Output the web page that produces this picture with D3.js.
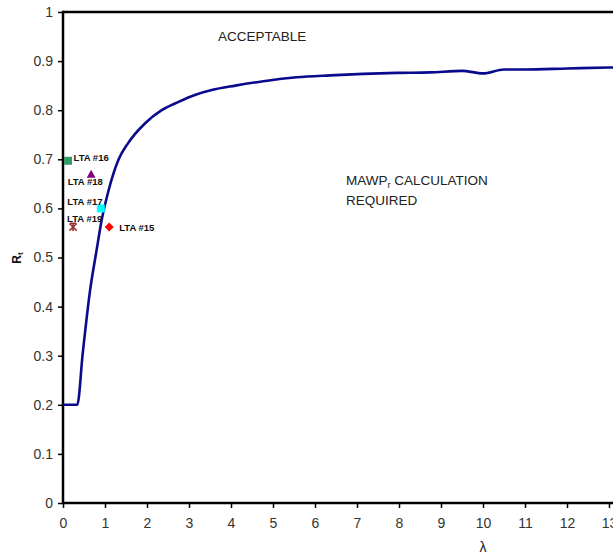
<!DOCTYPE html>
<html><head><meta charset="utf-8">
<script src="https://cdn.jsdelivr.net/npm/d3@7"></script>
<style>html,body{margin:0;padding:0;background:#fff;overflow:hidden}</style>
</head><body>
<svg id="c" width="613" height="556"></svg>
<script>
// ---- data ----
const curveLambda = [0, 0.34, 0.47, 0.64, 0.80, 0.92, 1.08, 1.32, 1.55, 1.95, 2.35, 2.75, 3.14, 3.54, 4.1, 4.77, 5.56, 6.36, 7.15, 7.94, 8.74, 9.5, 10.0, 10.5, 11, 12, 13, 14];
const curveR      = [0.2, 0.2, 0.305, 0.43, 0.515, 0.576, 0.635, 0.699, 0.733, 0.773, 0.800, 0.817, 0.831, 0.841, 0.850, 0.859, 0.867, 0.871, 0.874, 0.876, 0.877, 0.880, 0.875, 0.883, 0.883, 0.885, 0.887, 0.888];
const pointNames  = ["LTA #15", "LTA #16", "LTA #17", "LTA #18", "LTA #19"];
const pointLambda = [1.10, 0.12, 0.90, 0.67, 0.24];
const pointR      = [0.562, 0.697, 0.60, 0.670, 0.562];
const xTickValues = [0,1,2,3,4,5,6,7,8,9,10,11,12,13];
const yTickValues = [0,0.1,0.2,0.3,0.4,0.5,0.6,0.7,0.8,0.9,1];
const yTickLabels = ["0","0.1","0.2","0.3","0.4","0.5","0.6","0.7","0.8","0.9","1"];

// ---- styles ----
const markerStyle = {
  "LTA #15": {shape: "diamond", color: "#FF0000", lx: 10, ly: 4},
  "LTA #16": {shape: "square", color: "#339966", lx: 5.5, ly: 0.5},
  "LTA #17": {shape: "square", color: "#00FFFF", lx: -33.5, ly: -3.5},
  "LTA #18": {shape: "triangle", color: "#800080", lx: -23.5, ly: 11},
  "LTA #19": {shape: "star", color: "#993333", lx: -6, ly: -5.5}
};

const svg = d3.select("#c");
const W = 613;
const x = d3.scaleLinear().domain([0, 13]).range([63, 609]);
const y = d3.scaleLinear().domain([0, 1]).range([503, 12]);
const font = "Arial, 'Liberation Sans', sans-serif";

// axes
const yAxis = d3.axisLeft(y).tickValues(yTickValues).tickSize(5).tickPadding(5)
  .tickFormat((d, i) => yTickLabels[i]);
const gy = svg.append("g").attr("transform", `translate(${x(0)},0)`).call(yAxis);
const xAxis = d3.axisBottom(x).tickValues(xTickValues).tickSize(5).tickPadding(10).tickFormat(d3.format("d"));
const gx = svg.append("g").attr("transform", `translate(0,${y(0)})`).call(xAxis);
[gx, gy].forEach(g => {
  g.select(".domain").remove();
  g.selectAll(".tick line").attr("stroke", "#000").attr("stroke-width", 1.5);
  g.selectAll(".tick text").attr("font-family", font).attr("font-size", 14).attr("fill", "#333");
});

// frame lines
svg.append("line").attr("x1", x(0)).attr("x2", W).attr("y1", y(0)).attr("y2", y(0))
  .attr("stroke", "#000").attr("stroke-width", 2.5);
svg.append("line").attr("x1", x(0)).attr("x2", W).attr("y1", y(1)).attr("y2", y(1))
  .attr("stroke", "#000").attr("stroke-width", 2.5);
svg.append("line").attr("x1", x(0)).attr("x2", x(0)).attr("y1", y(1) - 1.25).attr("y2", y(0) + 1.25)
  .attr("stroke", "#000").attr("stroke-width", 2.5);

// curve
const line = d3.line().x(d => x(d[0])).y(d => y(d[1])).curve(d3.curveMonotoneX);
svg.append("path").datum(curveLambda.map((l, i) => [l, curveR[i]]))
  .attr("d", line).attr("fill", "none").attr("stroke", "#0A0A8C").attr("stroke-width", 2.6)
  .attr("stroke-linejoin", "round");

// markers
pointNames.forEach((name, i) => {
  const st = markerStyle[name];
  const cx = x(pointLambda[i]), cy = y(pointR[i]);
  const g = svg.append("g").attr("transform", `translate(${cx},${cy})`);
  if (st.shape === "square") {
    g.append("rect").attr("x", -4).attr("y", -4).attr("width", 8).attr("height", 8).attr("fill", st.color);
  } else if (st.shape === "diamond") {
    g.append("path").attr("d", "M0,-4.5L4.5,0L0,4.5L-4.5,0Z").attr("fill", st.color);
  } else if (st.shape === "triangle") {
    g.append("path").attr("d", "M0,-4.2L4.4,3.6L-4.4,3.6Z").attr("fill", st.color);
  } else if (st.shape === "star") {
    g.append("path").attr("d", "M-3.6,-3.6L3.6,3.6M-3.6,3.6L3.6,-3.6M0,-4L0,4M-3,-3.8L3,-3.8")
      .attr("stroke", st.color).attr("stroke-width", 1.6).attr("fill", "none");
  }
  svg.append("text").attr("x", cx + st.lx).attr("y", cy + st.ly)
    .attr("font-family", font).attr("font-size", 9.5).attr("font-weight", "bold").attr("fill", "#111")
    .text(name);
});

// region labels
svg.append("text").attr("x", 218).attr("y", 40.5).attr("font-family", font).attr("font-size", 13.5)
  .attr("fill", "#222").text("ACCEPTABLE");
const t1 = svg.append("text").attr("x", 346).attr("y", 185).attr("font-family", font).attr("font-size", 13.5).attr("fill", "#222");
t1.append("tspan").text("MAWP");
t1.append("tspan").attr("font-size", 9).attr("dy", 3).text("r");
t1.append("tspan").attr("dy", -3).text(" CALCULATION");
svg.append("text").attr("x", 346).attr("y", 204.5).attr("font-family", font).attr("font-size", 13.5)
  .attr("fill", "#222").text("REQUIRED");

// axis titles
const yl = svg.append("text").attr("transform", "translate(21,258) rotate(-90)")
  .attr("text-anchor", "middle").attr("font-family", font).attr("font-size", 12).attr("font-weight", "bold").attr("fill", "#111");
yl.append("tspan").text("R");
yl.append("tspan").attr("font-size", 8).attr("dy", 2).text("t");
svg.append("text").attr("x", x(10)).attr("y", 552).attr("text-anchor", "middle")
  .attr("font-family", font).attr("font-size", 14).attr("fill", "#222").text("λ");
</script>
</body></html>
